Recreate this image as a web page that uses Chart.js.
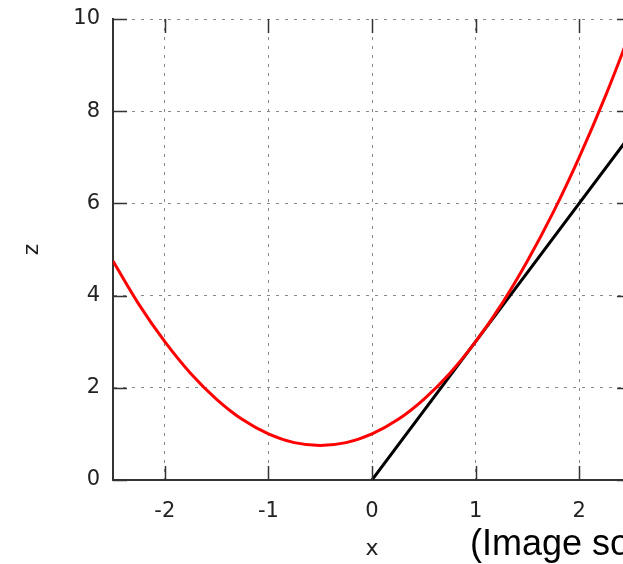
<!DOCTYPE html>
<html>
<head>
<meta charset="utf-8">
<script src="https://cdn.jsdelivr.net/npm/chart.js@4"></script>
<style>
  html, body { margin: 0; padding: 0; background: #fff; overflow: hidden; width: 623px; height: 564px; }
  #wrap { position: relative; width: 623px; height: 564px; }
  #plot { position: absolute; left: 0; top: 0; }
  #source { position: absolute; left: 470px; top: 525px; font: 36px/36px "Liberation Sans", Arial, sans-serif; color: #000; white-space: nowrap; }
</style>
</head>
<body>
<div id="wrap">
  <canvas id="plot" width="660" height="564"></canvas>
  <div id="source">(Image source)</div>
</div>
<script>
// values
const curveX = [-2.5, -2.25, -2, -1.75, -1.5, -1.25, -1, -0.75, -0.5, -0.25, 0, 0.25, 0.5, 0.75, 1, 1.25, 1.5, 1.75, 2, 2.25, 2.5];
const curveZ = [4.75, 3.81, 3, 2.31, 1.75, 1.31, 1, 0.81, 0.75, 0.81, 1, 1.31, 1.75, 2.31, 3, 3.81, 4.75, 5.81, 7, 8.31, 9.75];
const lineX = [0, 1, 2.5];
const lineZ = [0, 3, 7.5];
const xTicks = [-2, -1, 0, 1, 2];
const zTicks = [0, 2, 4, 6, 8, 10];

const tickFont = { family: 'DejaVu Sans', size: 21 };
const labelColor = '#222';

// gnuplot-like inward tick marks on all four sides
const innerTicks = {
    id: 'innerTicks',
    afterDraw(chart) {
        const { ctx, chartArea: a, scales: { x, y } } = chart;
        const len = 14;
        ctx.save();
        ctx.strokeStyle = '#333';
        ctx.lineWidth = 1.5;
        ctx.beginPath();
        xTicks.forEach(v => {
            const px = Math.round(x.getPixelForValue(v)) + 0.5;
            ctx.moveTo(px, a.bottom); ctx.lineTo(px, a.bottom - len);
            ctx.moveTo(px, a.top); ctx.lineTo(px, a.top + len);
        });
        zTicks.forEach(v => {
            const py = Math.round(y.getPixelForValue(v)) + 0.5;
            ctx.moveTo(a.left, py); ctx.lineTo(a.left + len, py);
            ctx.moveTo(a.right, py); ctx.lineTo(a.right - len, py);
        });
        ctx.stroke();
        ctx.restore();
    }
};

new Chart(document.getElementById('plot'), {
    type: 'scatter',
    data: {
        datasets: [
            {
                label: 'curve',
                data: curveX.map((v, i) => ({ x: v, y: curveZ[i] })),
                showLine: true,
                borderColor: '#ff0000',
                borderWidth: 3,
                pointRadius: 0,
                tension: 0.4,
                order: 1
            },
            {
                label: 'tangent',
                data: lineX.map((v, i) => ({ x: v, y: lineZ[i] })),
                showLine: true,
                borderColor: '#000000',
                borderWidth: 3,
                pointRadius: 0,
                order: 2
            }
        ]
    },
    options: {
        responsive: false,
        animation: false,
        devicePixelRatio: 1,
        layout: { padding: { left: 0, top: 19, right: 29, bottom: 0 } },
        plugins: { legend: { display: false }, tooltip: { enabled: false } },
        scales: {
            x: {
                type: 'linear',
                min: -2.5,
                max: 2.5,
                afterBuildTicks: s => { s.ticks = xTicks.map(v => ({ value: v })); },
                afterFit: s => { s.height = 84; s.paddingLeft = 0; s.paddingRight = 0; },
                ticks: { font: tickFont, color: labelColor, padding: 19, maxRotation: 0 },
                grid: { color: '#888', lineWidth: 1, drawTicks: false },
                border: { color: '#333', width: 2, dash: [3, 6] },
                title: { display: true, text: 'x', font: { family: 'DejaVu Sans', size: 22 }, color: labelColor, padding: { top: 0, bottom: 2 } }
            },
            y: {
                min: 0,
                max: 10,
                afterBuildTicks: s => { s.ticks = zTicks.map(v => ({ value: v })); },
                afterFit: s => { s.width = 113; s.paddingTop = 0; s.paddingBottom = 0; },
                ticks: { font: tickFont, color: labelColor, padding: 13 },
                grid: { color: '#888', lineWidth: 1, drawTicks: false },
                border: { color: '#333', width: 2, dash: [3, 6] },
                title: { display: true, text: 'z', font: { family: 'DejaVu Sans', size: 22 }, color: labelColor, padding: { top: 19, bottom: 0 } }
            }
        }
    },
    plugins: [innerTicks]
});
</script>
</body>
</html>
